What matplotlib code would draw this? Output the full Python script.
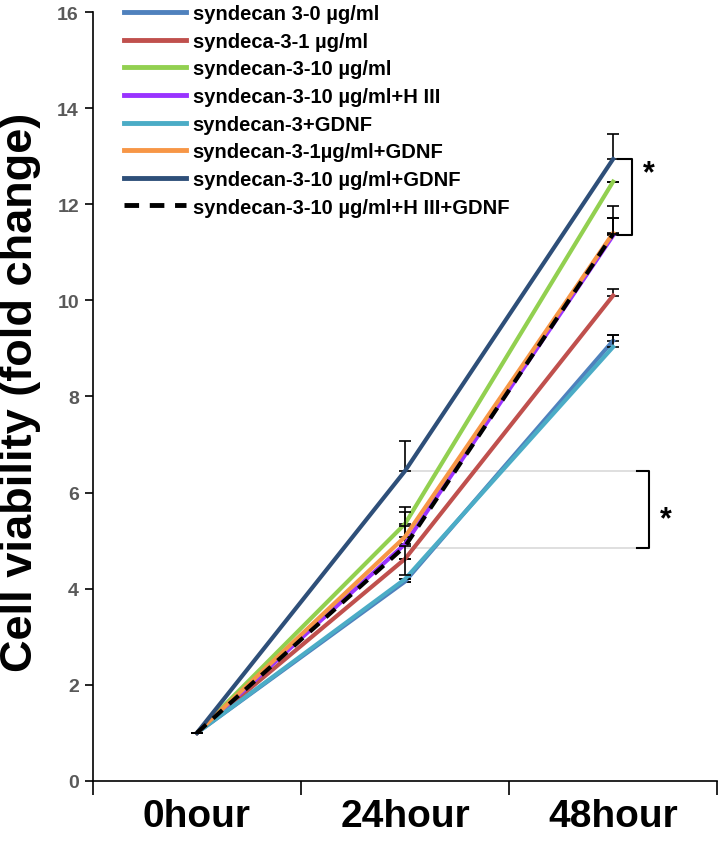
import matplotlib.pyplot as plt
from matplotlib.lines import Line2D
import numpy as np

times = ['0hour', '24hour', '48hour']
labels = ['syndecan 3-0 \u00b5g/ml', 'syndeca-3-1 \u00b5g/ml', 'syndecan-3-10 \u00b5g/ml',
          'syndecan-3-10 \u00b5g/ml+H III', 'syndecan-3+GDNF', 'syndecan-3-1\u00b5g/ml+GDNF',
          'syndecan-3-10 \u00b5g/ml+GDNF', 'syndecan-3-10 \u00b5g/ml+H III+GDNF']
colors = ['#4F81BD', '#C0504D', '#92D050', '#9933FF', '#4BACC6', '#F79646', '#2E4F79', 'black']

s0 = [1.0, 4.15, 9.16]
s1 = [1.0, 4.62, 10.10]
s10 = [1.0, 5.35, 12.47]
s10_h = [1.0, 4.93, 11.35]
s_gdnf = [1.0, 4.20, 9.03]
s1_gdnf = [1.0, 5.08, 11.40]
s10_gdnf = [1.0, 6.45, 12.94]
s10_h_gdnf = [1.0, 4.88, 11.38]
series = [s0, s1, s10, s10_h, s_gdnf, s1_gdnf, s10_gdnf, s10_h_gdnf]

err_up = [[0, 0, 0.11], [0, 0, 0.14], [0, 0.35, 0], [0, 0.37, 0.37],
          [0, 0, 0.24], [0, 0.52, 0.57], [0, 0.62, 0.52], [0, 0, 0.34]]
err_down = [[0, 0, 0], [0, 0, 0], [0, 0, 0], [0, 0, 0],
            [0, 0, 0], [0, 0, 0], [0, 0, 0], [0, 0.6, 0]]

font = ['Liberation Sans', 'DejaVu Sans']

fig = plt.figure(figsize=(7.2, 8.45), dpi=100)
ax = fig.add_axes([0.129, 0.0746, 0.867, 0.91])

x = np.arange(len(times))

# light guide lines for the 24 h comparison
ax.plot([1, 2.115], [s10_gdnf[1], s10_gdnf[1]], color='#d9d9d9', lw=1.2, zorder=1)
ax.plot([1, 2.115], [s10_h_gdnf[1] - 0.03] * 2, color='#d9d9d9', lw=1.2, zorder=1)

handles = []
for i, (ys, lab, c) in enumerate(zip(series, labels, colors)):
    ls = (0, (3, 2.2)) if i == 7 else '-'
    ax.errorbar(x, ys, yerr=[err_down[i], err_up[i]], color=c, ecolor='black',
                elinewidth=1.2, capsize=4, capthick=1.2, lw=3, ls=ls, zorder=3 + i)
    handles.append(Line2D([], [], color=c, lw=3.5, ls=ls, label=lab))


def bracket(xl, xr, y1, y2, star_x, star_y):
    ax.plot([xl, xr, xr, xl], [y1, y1, y2, y2], color='black', lw=1.5, zorder=20,
            clip_on=False)
    ax.text(star_x, star_y, '*', fontsize=22, fontweight='bold', ha='center',
            va='center', zorder=20, family=font)


bracket(2.024, 2.09, s10_gdnf[2], s10_h[2], 2.17, 12.65)
bracket(2.115, 2.173, s10_gdnf[1], s10_h_gdnf[1] - 0.03, 2.255, 5.45)

ax.set_xlim(-0.5, 2.5)
ax.set_ylim(0, 16)
ax.set_yticks(np.arange(0, 17, 2))
ax.set_xticks([-0.5, 0.5, 1.5, 2.5])
ax.set_xticklabels([])
ax.set_xticks(x, minor=True)
ax.set_xticklabels(times, minor=True, fontsize=28, fontweight='bold', family=font)
ax.tick_params(axis='x', which='major', length=10, width=1.2, direction='out')
ax.tick_params(axis='x', which='minor', length=0, pad=12)
ax.tick_params(axis='y', length=6, width=1.2, direction='out', labelsize=14,
               labelcolor='#595959', pad=4)
for t in ax.get_yticklabels():
    t.set_fontweight('bold')
    t.set_family(font)
for s in ['top', 'right']:
    ax.spines[s].set_visible(False)
for s in ['left', 'bottom']:
    ax.spines[s].set_linewidth(1.2)

ax.set_ylabel('Cell viability (fold change)', fontsize=32.5, fontweight='bold',
              family=font)
ax.yaxis.set_label_coords(-0.083, 0.506)

ax.legend(handles=handles, loc='upper left', bbox_to_anchor=(0.037, 1.021), frameon=False,
          prop={'weight': 'bold', 'size': 14.5, 'family': font},
          handlelength=3.1, labelspacing=0.43, handletextpad=0.3, borderaxespad=0)

fig.savefig('out.png', dpi=100)
